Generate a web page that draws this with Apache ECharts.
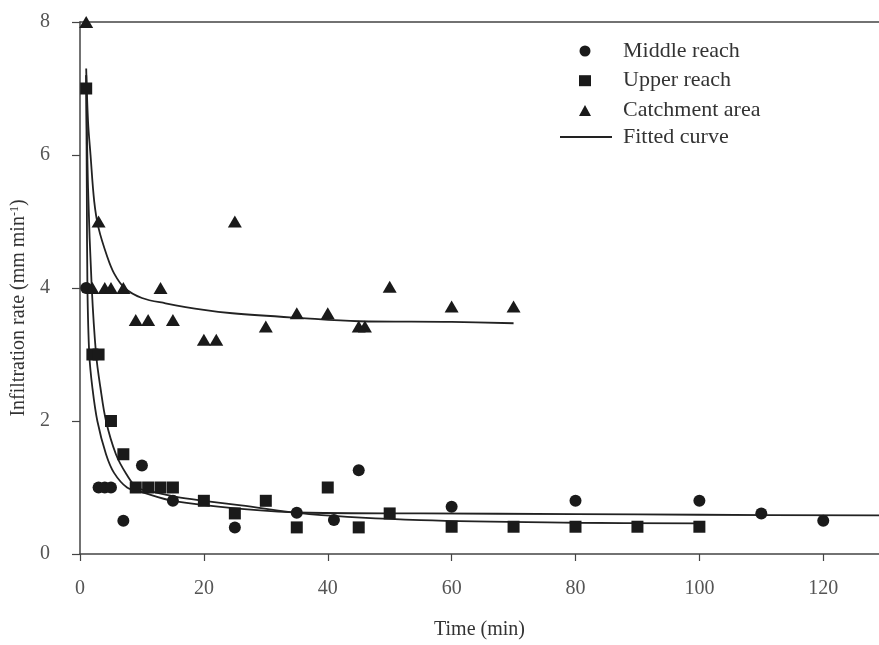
<!DOCTYPE html>
<html>
<head>
<meta charset="utf-8">
<script src="https://cdn.jsdelivr.net/npm/echarts@6/dist/echarts.min.js"></script>
<style>
  html, body { margin: 0; padding: 0; background: #fff; }
  #chart { width: 879px; height: 645px; }
</style>
</head>
<body>
<div id="chart"></div>
<script>
// measured points (time in min, infiltration rate in mm/min)
var middleT = [1, 3, 4, 5, 7, 10, 15, 25, 35, 41, 45, 60, 80, 100, 110, 120];
var middleV = [4, 1, 1, 1, 0.5, 1.33, 0.8, 0.4, 0.62, 0.51, 1.26, 0.71, 0.8, 0.8, 0.61, 0.5];

var upperT = [1, 2, 3, 5, 7, 9, 11, 13, 15, 20, 25, 30, 35, 40, 45, 50, 60, 70, 80, 90, 100];
var upperV = [7, 3, 3, 2, 1.5, 1, 1, 1, 1, 0.8, 0.61, 0.8, 0.4, 1, 0.4, 0.61, 0.41, 0.41, 0.41, 0.41, 0.41];

var catchT = [1, 2, 3, 4, 5, 7, 9, 11, 13, 15, 20, 22, 25, 30, 35, 40, 45, 46, 50, 60, 70];
var catchV = [8, 4, 5, 4, 4, 4, 3.52, 3.52, 4, 3.52, 3.22, 3.22, 5, 3.42, 3.62, 3.62, 3.42, 3.42, 4.02, 3.72, 3.72];

// fitted curves
var middleFitT = [1, 1.1, 1.2, 1.5, 2, 2.8, 4.2, 5.5, 7.6, 10, 15, 26, 37, 55, 80, 100, 129];
var middleFitV = [7.2, 5.5, 4.0, 3.0, 2.5, 2.0, 1.5, 1.22, 1.0, 0.93, 0.8, 0.68, 0.62, 0.61, 0.6, 0.59, 0.58];

var upperFitT = [1, 1.3, 1.9, 2.6, 3.3, 4.2, 5.8, 7.5, 9.2, 12, 15.5, 20, 26, 37, 55, 80, 100];
var upperFitV = [7.2, 5.5, 4.0, 3.0, 2.5, 2.0, 1.5, 1.2, 1.0, 0.93, 0.86, 0.8, 0.73, 0.6, 0.51, 0.47, 0.46];

var catchFitT = [1, 1.3, 1.7, 2.3, 3, 4.4, 5.5, 7.2, 10, 13.8, 20, 24.6, 35.4, 45, 60, 70];
var catchFitV = [7.3, 6.5, 6.0, 5.3, 4.9, 4.47, 4.22, 4.0, 3.85, 3.77, 3.67, 3.62, 3.55, 3.5, 3.49, 3.47];

var markerNames = ['Middle reach', 'Upper reach', 'Catchment area'];
var curveName = 'Fitted curve';

function pairs(t, v) {
    var out = [];
    for (var i = 0; i < t.length; i++) out.push([t[i], v[i]]);
    return out;
}

var serif = 'Liberation Serif';
var ink = '#1a1a1a';

function fitLine(t, v) {
    return {
        name : curveName,
        type : 'line',
        data : pairs(t, v),
        symbol : 'none',
        smooth : 0.35,
        lineStyle : { color : '#222', width : 1.8 },
        itemStyle : { color : '#222' },
        z : 2
    };
}

var myChart = echarts.init(document.getElementById('chart'));
var option =
{
    animation : false,
    backgroundColor : '#fff',
    grid : { left : 80, right : 0, top : 22, bottom : 84 },
    legend : [
        {   // marker entries
            data : markerNames,
            orient : 'vertical',
            left : 579,
            top : 40,
            padding : 0,
            itemWidth : 12,
            itemHeight : 11,
            itemGap : 7.7,
            textStyle : { fontFamily : serif, fontSize : 22, color : '#333', lineHeight : 21, padding : [0, 0, 0, 27] }
        },
        {   // curve entry
            data : [{ name : curveName, icon : 'rect' }],
            orient : 'vertical',
            left : 560,
            top : 126,
            padding : 0,
            itemWidth : 52,
            itemHeight : 2,
            textStyle : { fontFamily : serif, fontSize : 22, color : '#333', lineHeight : 21, padding : [0, 0, 0, 6] }
        }
    ],
    xAxis : [
        {
            type : 'value',
            min : 0,
            max : 129,
            interval : 20,
            name : 'Time (min)',
            nameLocation : 'middle',
            nameGap : 66,
            nameTextStyle : { fontFamily : serif, fontSize : 20, color : '#333' },
            axisLine : { show : true, lineStyle : { color : '#444', width : 1.5 } },
            axisTick : { show : true, length : 7, lineStyle : { color : '#444', width : 1.2 } },
            axisLabel : { fontFamily : serif, fontSize : 20, color : '#555', margin : 25, showMaxLabel : false },
            splitLine : { show : false }
        },
        {
            type : 'value',
            position : 'top',
            min : 0,
            max : 129,
            axisLine : { show : true, lineStyle : { color : '#444', width : 1.5 } },
            axisTick : { show : false },
            axisLabel : { show : false },
            splitLine : { show : false }
        }
    ],
    yAxis :
    {
        type : 'value',
        min : 0,
        max : 8,
        interval : 2,
        name : '{a|Infiltration rate (mm min}{s|-1}{a|)}',
        nameLocation : 'middle',
        nameGap : 48,
        nameTextStyle :
        {
            padding : [0, 40, 0, 0],
            rich :
            {
                a : { fontFamily : serif, fontSize : 20, color : '#333' },
                s : { fontFamily : serif, fontSize : 12, color : '#333', verticalAlign : 'top', padding : [0, 0, 9, 0] }
            }
        },
        axisLine : { show : true, lineStyle : { color : '#444', width : 1.5 } },
        axisTick : { show : true, length : 8, lineStyle : { color : '#444', width : 1.2 } },
        axisLabel : { fontFamily : serif, fontSize : 20, color : '#555', margin : 30 },
        splitLine : { show : false }
    },
    series : [
        {
            name : markerNames[0],
            type : 'scatter',
            data : pairs(middleT, middleV),
            symbol : 'circle',
            symbolSize : 12,
            clip : false,
            itemStyle : { color : ink, opacity : 1 },
            z : 3
        },
        {
            name : markerNames[1],
            type : 'scatter',
            data : pairs(upperT, upperV),
            symbol : 'rect',
            symbolSize : 12,
            clip : false,
            itemStyle : { color : ink, opacity : 1 },
            z : 3
        },
        {
            name : markerNames[2],
            type : 'scatter',
            data : pairs(catchT, catchV),
            symbol : 'triangle',
            symbolSize : [14, 12],
            clip : false,
            itemStyle : { color : ink, opacity : 1 },
            z : 3
        },
        fitLine(middleFitT, middleFitV),
        fitLine(upperFitT, upperFitV),
        fitLine(catchFitT, catchFitV)
    ]
};

myChart.setOption(option);
</script>
</body>
</html>
